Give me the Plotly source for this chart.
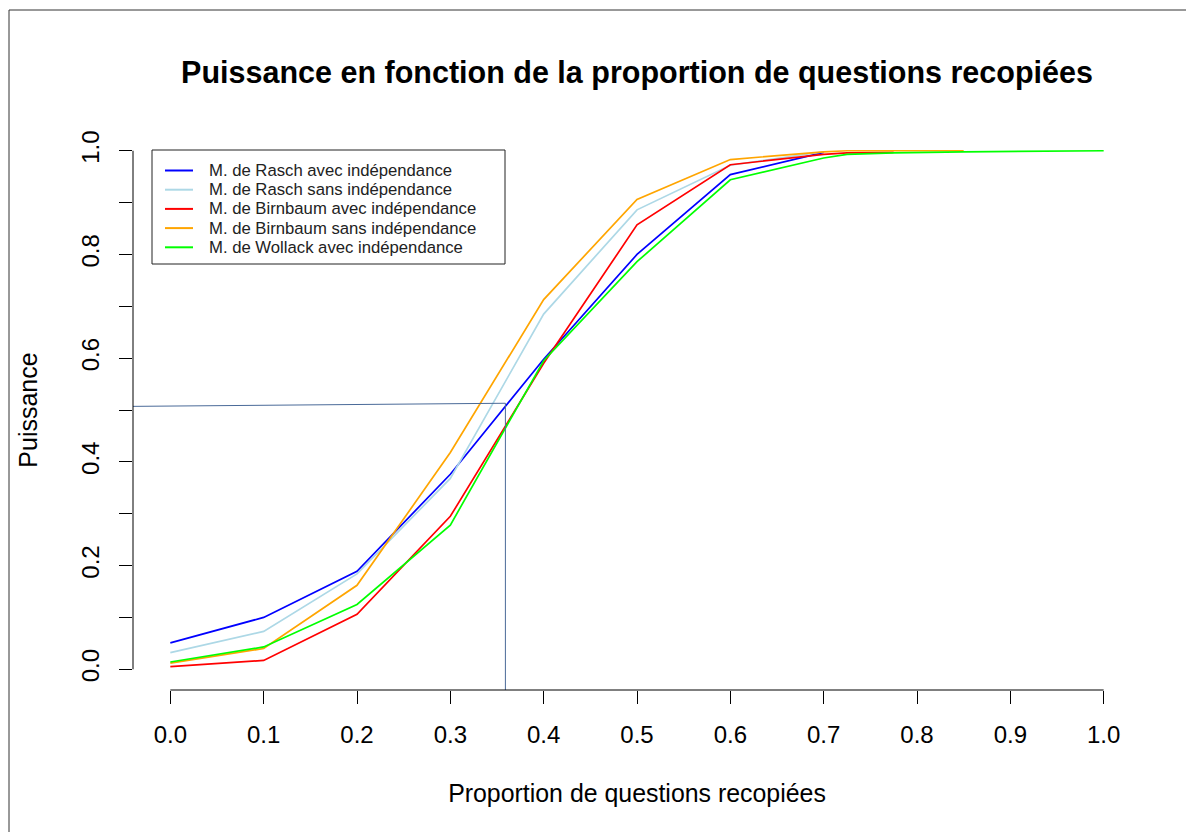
import plotly.graph_objects as go

# ---- data ----
x_rasch_avec = [0.0, 0.1, 0.2, 0.3, 0.4, 0.5, 0.6, 0.7]
y_rasch_avec = [0.051, 0.100, 0.189, 0.376, 0.598, 0.800, 0.954, 0.997]

x_rasch_sans = [0.0, 0.1, 0.2, 0.3, 0.4, 0.5, 0.6, 0.7]
y_rasch_sans = [0.032, 0.073, 0.184, 0.368, 0.685, 0.886, 0.972, 0.998]

x_birn_avec = [0.0, 0.1, 0.2, 0.3, 0.4, 0.5, 0.6, 0.7, 0.725, 0.775]
y_birn_avec = [0.005, 0.017, 0.106, 0.295, 0.590, 0.857, 0.973, 0.993, 0.996, 0.997]

x_birn_sans = [0.0, 0.1, 0.2, 0.3, 0.4, 0.5, 0.6, 0.7, 0.725, 0.85]
y_birn_sans = [0.012, 0.040, 0.162, 0.418, 0.713, 0.906, 0.983, 0.998, 1.0, 1.0]

x_woll_avec = [0.0, 0.1, 0.2, 0.3, 0.4, 0.5, 0.6, 0.7, 0.725, 0.775, 0.85, 1.0]
y_woll_avec = [0.014, 0.043, 0.125, 0.278, 0.595, 0.786, 0.944, 0.986, 0.993, 0.996, 0.998, 1.0]

series_names = [
    "M. de Rasch avec indépendance",
    "M. de Rasch sans indépendance",
    "M. de Birnbaum avec indépendance",
    "M. de Birnbaum sans indépendance",
    "M. de Wollack avec indépendance",
]
series_colors = ["#0000FF", "#ADD8E6", "#FF0000", "#FFA500", "#00FF00"]

# reference (power 0.5) line
ref_x = 0.359
ref_y = [0.507, 0.513]

x_ticks = [0.0, 0.1, 0.2, 0.3, 0.4, 0.5, 0.6, 0.7, 0.8, 0.9, 1.0]
x_ticktext = ["0.0", "0.1", "0.2", "0.3", "0.4", "0.5", "0.6", "0.7", "0.8", "0.9", "1.0"]
y_ticks = [0.0, 0.1, 0.2, 0.3, 0.4, 0.5, 0.6, 0.7, 0.8, 0.9, 1.0]
y_ticktext = ["0.0", "", "0.2", "", "0.4", "", "0.6", "", "0.8", "", "1.0"]

title_text = "Puissance en fonction de la proportion de questions recopiées"
x_title = "Proportion de questions recopiées"
y_title = "Puissance"

# ---- figure geometry (figure pixels; page has an 8px body margin) ----
W, H = 1186, 824
ML, MR, MT, MB = 125, 53, 122, 142
PW, PH = W - ML - MR, H - MT - MB
RANGE = [-0.04, 1.04]
FONT = "Liberation Sans, Arial, sans-serif"


def pxx(fx):
    return (fx - ML) / PW


def pxy(fy):
    return (H - MB - fy) / PH


def dpaper(v):
    return (v - RANGE[0]) / (RANGE[1] - RANGE[0])


fig = go.Figure()

xs = [x_rasch_avec, x_rasch_sans, x_birn_avec, x_birn_sans, x_woll_avec]
ys = [y_rasch_avec, y_rasch_sans, y_birn_avec, y_birn_sans, y_woll_avec]
for name, col, x, y in zip(series_names, series_colors, xs, ys):
    fig.add_trace(go.Scatter(x=x, y=y, mode="lines", name=name,
                             line=dict(color=col, width=1.7), showlegend=False))

# reference segment
fig.add_trace(go.Scatter(x=[RANGE[0], ref_x, ref_x], y=[ref_y[0], ref_y[1], RANGE[0]],
                         mode="lines", line=dict(color="#4A6A98", width=1),
                         showlegend=False, hoverinfo="skip"))

shapes = [
    # R-style axis lines spanning only 0..1
    dict(type="line", xref="paper", yref="paper", x0=dpaper(0), x1=dpaper(1),
         y0=0, y1=0, line=dict(color="black", width=1)),
    dict(type="line", xref="paper", yref="paper", x0=0, x1=0,
         y0=dpaper(0), y1=dpaper(1), line=dict(color="black", width=1)),
    # outer frame
    dict(type="rect", xref="paper", yref="paper",
         x0=pxx(1), x1=pxx(W + 30), y0=pxy(H + 30), y1=pxy(2),
         line=dict(color="#333333", width=1)),
    # legend box
    dict(type="rect", xref="paper", yref="paper",
         x0=pxx(144), x1=pxx(497), y0=pxy(256), y1=pxy(142),
         line=dict(color="#222222", width=1), fillcolor="white", layer="above"),
]

annotations = []
row0, rowstep = 162.5, 19.2
for i, (name, col) in enumerate(zip(series_names, series_colors)):
    fy = row0 + i * rowstep
    shapes.append(dict(type="line", xref="paper", yref="paper",
                       x0=pxx(157), x1=pxx(185), y0=pxy(fy), y1=pxy(fy),
                       line=dict(color=col, width=2), layer="above"))
    annotations.append(dict(text=name, xref="paper", yref="paper",
                            x=pxx(199), y=pxy(fy), xanchor="left", yanchor="middle",
                            showarrow=False,
                            font=dict(size=16.7, family=FONT, color="#222222")))

fig.update_layout(
    width=W, height=H,
    margin=dict(l=ML, r=MR, t=MT, b=MB, pad=0),
    paper_bgcolor="white", plot_bgcolor="white",
    font=dict(family=FONT, color="black", size=24),
    title=dict(text="<b>" + title_text + "</b>", x=0.5, xref="paper",
               y=1 - 64 / H, yref="container", yanchor="middle", xanchor="center",
               font=dict(size=30.5, family=FONT, color="black")),
    xaxis=dict(range=RANGE, showgrid=False, zeroline=False, showline=False,
               tickvals=x_ticks, ticktext=x_ticktext, ticks="outside", ticklen=13,
               tickwidth=1, tickcolor="black", tickfont=dict(size=24),
               ticklabelstandoff=10,
               title=dict(text=x_title, font=dict(size=24.9), standoff=37)),
    yaxis=dict(range=RANGE, showgrid=False, zeroline=False, showline=False,
               tickvals=y_ticks, ticktext=y_ticktext, ticks="outside", ticklen=13,
               tickwidth=1, tickcolor="black", tickfont=dict(size=24), tickangle=-90,
               ticklabelstandoff=10,
               title=dict(text=y_title, font=dict(size=25), standoff=32)),
    shapes=shapes,
    annotations=annotations,
    showlegend=False,
)

fig.write_html("out.html")
